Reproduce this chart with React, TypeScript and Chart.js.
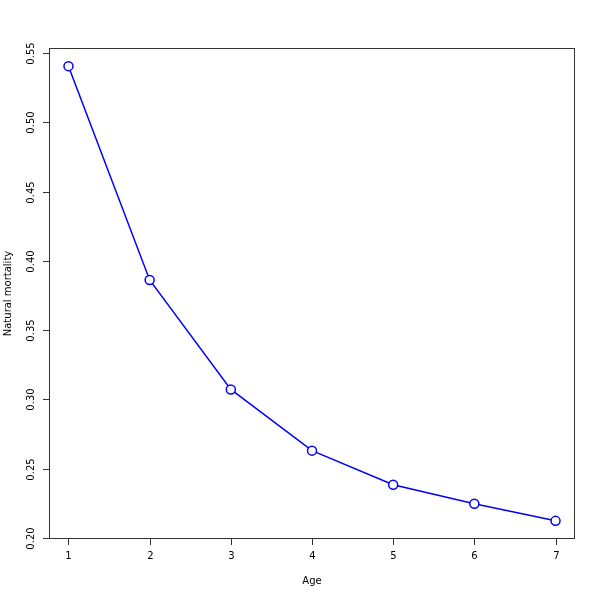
import React, { useEffect, useRef } from "react";
import { Chart, registerables } from "chart.js";

Chart.register(...registerables);

const ages = [1, 2, 3, 4, 5, 6, 7];
const mortality = [0.5406, 0.3862, 0.3072, 0.263, 0.2384, 0.2246, 0.2123];
const xTicks = [1, 2, 3, 4, 5, 6, 7];
const yTicks = [0.2, 0.25, 0.3, 0.35, 0.4, 0.45, 0.5, 0.55];
const yTickLabels = ["0.20", "0.25", "0.30", "0.35", "0.40", "0.45", "0.50", "0.55"];
const xTitle = "Age";
const yTitle = "Natural mortality";

const FONT = "10px 'DejaVu Sans'";

const axesPlugin = {
  id: "rAxes",
  afterDraw(chart: any) {
    const { ctx, chartArea } = chart;
    const xs = chart.scales.x;
    const ys = chart.scales.y;
    const { left, right, top, bottom } = chartArea;
    ctx.save();
    ctx.strokeStyle = "#333";
    ctx.lineWidth = 1;
    ctx.strokeRect(left + 0.5, top + 0.5, right - left - 1, bottom - top - 1);
    ctx.fillStyle = "#000";
    ctx.font = FONT;
    // x ticks
    ctx.textAlign = "center";
    ctx.textBaseline = "middle";
    xTicks.forEach((v) => {
      const px = Math.round(xs.getPixelForValue(v)) + 0.5;
      ctx.beginPath();
      ctx.moveTo(px, bottom);
      ctx.lineTo(px, bottom + 6);
      ctx.stroke();
      ctx.fillText(String(v), px, bottom + 17);
    });
    ctx.fillText(xTitle, (left + right) / 2, 581);
    // y ticks
    yTicks.forEach((v, i) => {
      const py = Math.round(ys.getPixelForValue(v)) + 0.5;
      ctx.beginPath();
      ctx.moveTo(left, py);
      ctx.lineTo(left - 6, py);
      ctx.stroke();
      ctx.save();
      ctx.translate(31, py);
      ctx.rotate(-Math.PI / 2);
      ctx.fillText(yTickLabels[i], 0, 0);
      ctx.restore();
    });
    ctx.save();
    ctx.translate(8, (top + bottom) / 2);
    ctx.rotate(-Math.PI / 2);
    ctx.fillText(yTitle, 0, 0);
    ctx.restore();
    ctx.restore();
  },
};

export default function App() {
  const ref = useRef<HTMLCanvasElement | null>(null);
  useEffect(() => {
    if (!ref.current) return;
    const chart = new Chart(ref.current, {
      type: "line",
      data: {
        datasets: [
          {
            data: ages.map((a, i) => ({ x: a, y: mortality[i] })),
            borderColor: "#0000ff",
            borderWidth: 1.5,
            pointRadius: 4.5,
            pointBorderWidth: 1.5,
            pointBackgroundColor: "#ffffff",
            pointBorderColor: "#0000ff",
            tension: 0,
            fill: false,
          },
        ],
      },
      options: {
        responsive: false,
        animation: false,
        devicePixelRatio: 1,
        layout: { padding: { left: 49, top: 48, right: 25, bottom: 61 } },
        plugins: { legend: { display: false }, tooltip: { enabled: false } },
        scales: {
          x: { type: "linear", min: 0.76, max: 7.24, display: false },
          y: { type: "linear", min: 0.1992, max: 0.5537, display: false },
        },
      },
      plugins: [axesPlugin],
    });
    return () => chart.destroy();
  }, []);
  return (
    <div style={{ position: "fixed", left: 0, top: 0, width: 600, height: 600, background: "#fff" }}>
      <canvas ref={ref} width={600} height={600} style={{ width: 600, height: 600 }} />
    </div>
  );
}
